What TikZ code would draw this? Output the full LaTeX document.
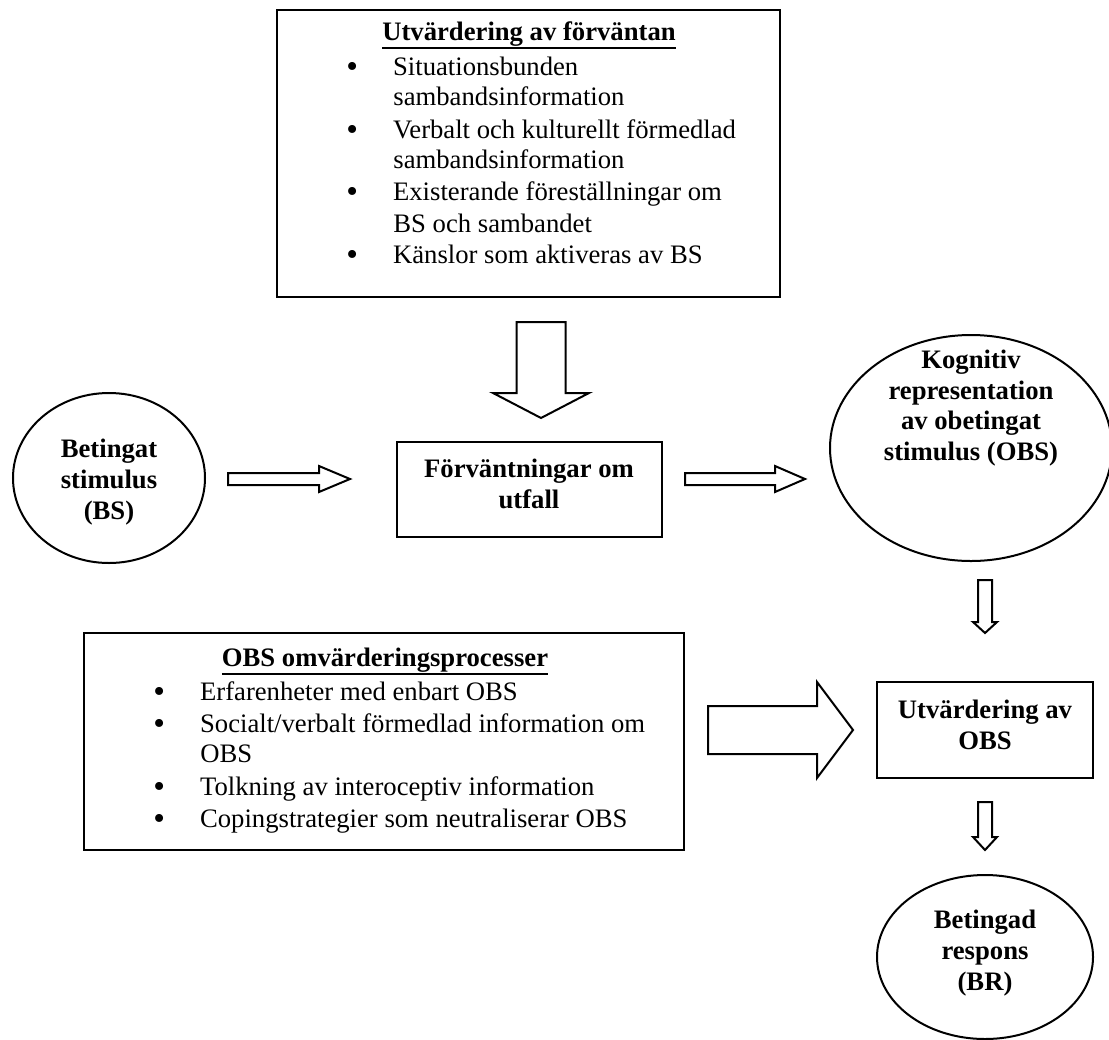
\documentclass[tikz,border=0pt]{standalone}
\usepackage{fontspec}
\setmainfont{Liberation Serif}
\usetikzlibrary{shapes.geometric}
\newcommand{\bul}{\makebox[21pt][l]{\fontsize{15}{15}\selectfont\raisebox{-1pt}{\textbullet}}}
\newcommand{\thickul}[1]{\setbox0=\hbox{#1}\vtop{\hbox{\copy0}\kern0.4pt\hrule height 0.9pt width \wd0}}

\begin{document}
\begin{tikzpicture}[x=0.45pt,y=-0.45pt,
    font=\fontsize{12}{13.8}\selectfont,
    box/.style={draw,line width=0.9pt,rectangle,inner sep=0pt},
    oval/.style={draw,line width=0.9pt,ellipse,inner sep=0pt},
    bold/.style={font=\fontsize{12}{13.8}\selectfont\bfseries,align=center,inner sep=0pt},
    item/.style={anchor=mid west,inner sep=0pt},
    hollow/.style={draw,line width=0.9pt,fill=white,line join=miter}]
  \useasboundingbox (0,0) rectangle (1109,1039);

  % Utvardering av forvantan
  \node[box,minimum width=226.35pt,minimum height=129.15pt] (expbox) at (528.5,153.5) {};
  \node[bold,anchor=mid] (exptitle) at (529,35) {\thickul{Utvärdering av förväntan}};
  \node[item] (e1) at (346,70) {\bul Situationsbunden};
  \node[item] (e2) at (393,100) {sambandsinformation};
  \node[item] (e3) at (346,133) {\bul Verbalt och kulturellt förmedlad};
  \node[item] (e4) at (393,163) {sambandsinformation};
  \node[item] (e5) at (346,195) {\bul Existerande föreställningar om};
  \node[item] (e6) at (393,227) {BS och sambandet};
  \node[item] (e7) at (346,258) {\bul Känslor som aktiveras av BS};

  % middle row
  \node[oval,minimum width=86.4pt,minimum height=76.5pt] (bs) at (109,478) {};
  \node[bold] (bstext) at (109,482) {Betingat\\stimulus\\(BS)};
  \node[box,minimum width=119.25pt,minimum height=42.75pt] (forv) at (529.5,489.5) {};
  \node[bold] (forvtext) at (529,484) {Förväntningar om\\utfall};
  \node[oval,minimum width=126.9pt,minimum height=101.7pt] (obs) at (971,448) {};
  \node[bold] (obstext) at (971,408) {Kognitiv\\representation\\av obetingat\\stimulus (OBS)};

  % OBS omvardering
  \node[box,minimum width=270pt,minimum height=97.65pt] (omvbox) at (384,741.5) {};
  \node[bold,anchor=mid] (omvtitle) at (385,661) {\thickul{OBS omvärderingsprocesser}};
  \node[item] (o1) at (153,695) {\bul Erfarenheter med enbart OBS};
  \node[item] (o2) at (153,727) {\bul Socialt/verbalt förmedlad information om};
  \node[item] (o3) at (200,757) {OBS};
  \node[item] (o4) at (153,790) {\bul Tolkning av interoceptiv information};
  \node[item] (o5) at (153,822) {\bul Copingstrategier som neutraliserar OBS};

  \node[box,minimum width=97.2pt,minimum height=43.2pt] (utv) at (985,730) {};
  \node[bold] (utvtext) at (985,725) {Utvärdering av\\OBS};
  \node[oval,minimum width=97.2pt,minimum height=73.8pt] (br) at (985,957) {};
  \node[bold] (brtext) at (985,953) {Betingad\\respons\\(BR)};

  % block arrows
  \coordinate (d1) at (541,322);
  \coordinate (a1) at (228,479);
  \coordinate (a2) at (685,479);
  \coordinate (d2) at (985,580);
  \coordinate (r1) at (708,730);
  \coordinate (d3) at (985,802);

  \draw[hollow] (d1) ++(-24.5,0) -- ++(0,71) -- ++(-23.5,0) -- ++(48,25) -- ++(48,-25) -- ++(-23.5,0) -- ++(0,-71) -- cycle;
  \draw[hollow] (a1) ++(0,-6) -- ++(91,0) -- ++(0,-7) -- ++(31,13) -- ++(-31,13) -- ++(0,-7) -- ++(-91,0) -- cycle;
  \draw[hollow] (a2) ++(0,-6) -- ++(90,0) -- ++(0,-7) -- ++(30,13) -- ++(-30,13) -- ++(0,-7) -- ++(-90,0) -- cycle;
  \draw[hollow] (d2) ++(-7,0) -- ++(0,42) -- ++(-5,0) -- ++(12,11) -- ++(12,-11) -- ++(-5,0) -- ++(0,-42) -- cycle;
  \draw[hollow] (r1) ++(0,-24) -- ++(109,0) -- ++(0,-24) -- ++(36,48) -- ++(-36,48) -- ++(0,-24) -- ++(-109,0) -- cycle;
  \draw[hollow] (d3) ++(-7,0) -- ++(0,35) -- ++(-5,0) -- ++(12,13) -- ++(12,-13) -- ++(-5,0) -- ++(0,-35) -- cycle;
\end{tikzpicture}
\end{document}
